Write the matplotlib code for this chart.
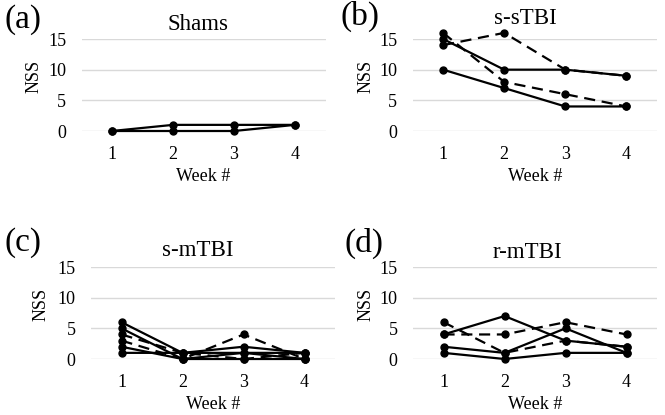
import matplotlib
matplotlib.use('Agg')
import matplotlib.pyplot as plt

weeks = [1, 2, 3, 4]

# NSS scores per animal, split by line style in the original figure
shams_solid = [[0, 1, 1, 1], [0, 0, 0, 1]]
shams_dashed = []

ssTBI_solid = [[15, 10, 10, 9], [10, 7, 4, 4]]
ssTBI_dashed = [[14, 16, 10, 9], [16, 8, 6, 4]]

smTBI_solid = [[6, 1, 2, 1], [5, 0, 1, 1], [2, 0, 0, 0], [1, 1, 1, 0]]
smTBI_dashed = [[4, 1, 0, 1], [3, 0, 4, 0]]

rmTBI_solid = [[4, 7, 3, 2], [2, 1, 5, 1], [1, 0, 1, 1]]
rmTBI_dashed = [[4, 4, 6, 4], [6, 1, 3, 2]]

titles = ['Shams', 's-sTBI', 's-mTBI', 'r-mTBI']
letters = ['(a)', '(b)', '(c)', '(d)']
groups = [(shams_solid, shams_dashed), (ssTBI_solid, ssTBI_dashed),
          (smTBI_solid, smTBI_dashed), (rmTBI_solid, rmTBI_dashed)]

plt.rcParams['font.family'] = ['Liberation Serif', 'DejaVu Serif']

W, H = 665, 415
fig = plt.figure(figsize=(W / 100, H / 100), dpi=100)

# axes boxes in pixels: left, top, right, bottom
boxes = [(81.5, 39, 325.5, 131), (412.5, 39, 657, 131),
         (91, 267, 335, 359), (413, 267, 657, 359)]
title_pos = [(198, 25), (525, 18), (198, 250), (527, 252)]
letter_pos = [(4, 20), (340, 16), (4, 243), (344, 243)]
ylabel_x = [43, 375, 50, 375]

for i, (l, t, r, b) in enumerate(boxes):
    ax = fig.add_axes([l / W, 1 - b / H, (r - l) / W, (b - t) / H])
    solid, dashed = groups[i]
    for s in dashed:
        ax.plot(weeks, s, '--', color='black', lw=1.6, dashes=(5, 3),
                marker='o', ms=5, clip_on=False, zorder=3)
    for s in solid:
        ax.plot(weeks, s, '-', color='black', lw=1.6,
                marker='o', ms=5, clip_on=False, zorder=4)
    ax.set_xlim(0.5, 4.5)
    ax.set_ylim(0, 15)
    ax.set_xticks(weeks)
    ax.set_yticks([0, 5, 10, 15])
    ax.grid(axis='y', color='#d9d9d9', lw=1)
    ax.set_axisbelow(True)
    for sp in ax.spines.values():
        sp.set_visible(False)
    ax.tick_params(length=0, labelsize=13, pad=11)
    ax.set_xlabel('Week #', fontsize=13)
    ax.set_ylabel('NSS', fontsize=13)
    ax.yaxis.set_label_coords((ylabel_x[i] - l) / (r - l), 0.59)
    ax.xaxis.set_label_coords(0.5, -0.40)
    tx, ty = title_pos[i]
    fig.text(tx / W, 1 - ty / H, titles[i], fontsize=16.5, ha='center', va='center')
    lx, ly = letter_pos[i]
    fig.text(lx / W, 1 - ly / H, letters[i], fontsize=24, ha='left', va='center')

fig.savefig('out.png', dpi=100)
